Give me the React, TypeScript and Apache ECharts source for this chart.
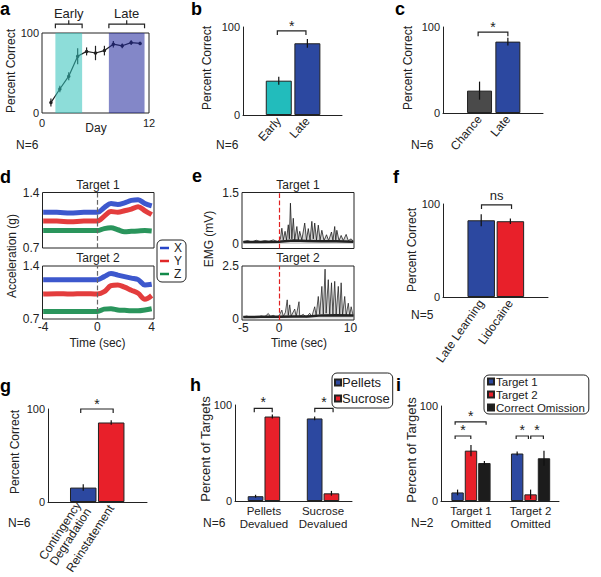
import React, { useEffect, useRef } from "react";
import * as echarts from "echarts";

const FONT = "'Liberation Sans', Arial, Helvetica, sans-serif";
const INK = "#222222";

// ---------- panel a : learning curve
const days = [1, 2, 3, 4, 5, 6, 7, 8, 9, 10, 11];
const pctCorrectByDay = [13, 30, 46, 71, 77, 75, 78, 86, 84, 88, 87];
const pctCorrectErr = [5, 4, 5, 10, 5, 9, 6, 4, 3, 3, 2];
const earlyWindow = [1.5, 4.5];
const lateWindow = [7.5, 11.5];

// ---------- panel b
const bCats = ["Early", "Late"];
const bVals = [39, 81.5];
const bErr = [4.5, 5];
// ---------- panel c
const cCats = ["Chance", "Late"];
const cVals = [26, 83];
const cErr = [10.5, 4.5];
// ---------- panel f
const fCats = ["Late Learning", "Lidocaine"];
const fVals = [82.5, 81.5];
const fErr = [6.5, 3];
// ---------- panel g
const gCats = ["Contingency\nDegradation", "Reinstatement"];
const gVals = [15.5, 85.5];
const gErr = [3.5, 2.5];
// ---------- panel h
const hGroups = ["Pellets\nDevalued", "Sucrose\nDevalued"];
const hPellets = [5, 86];
const hPelletsErr = [1.5, 2];
const hSucrose = [88, 8];
const hSucroseErr = [2, 2.5];
// ---------- panel i
const iGroups = ["Target 1\nOmitted", "Target 2\nOmitted"];
const iTarget1 = [9, 50];
const iTarget1Err = [3, 2];
const iTarget2 = [53, 7];
const iTarget2Err = [6, 5];
const iOmission = [40, 45];
const iOmissionErr = [2, 8];

// ---------- panel d : accelerometer traces
const accTime = [-4, -3, -2, -1, 0, 0.5, 1, 1.5, 2, 2.5, 3, 3.5, 4];
const accT1X = [1.15, 1.15, 1.14, 1.15, 1.15, 1.21, 1.26, 1.25, 1.27, 1.3, 1.31, 1.26, 1.23];
const accT1Y = [1.04, 1.04, 1.03, 1.04, 1.04, 1.1, 1.16, 1.15, 1.17, 1.19, 1.22, 1.17, 1.12];
const accT1Z = [0.92, 0.92, 0.92, 0.92, 0.92, 0.945, 0.955, 0.93, 0.905, 0.91, 0.915, 0.92, 0.915];
const accT2X = [1.22, 1.22, 1.22, 1.22, 1.22, 1.26, 1.3, 1.28, 1.26, 1.24, 1.22, 1.15, 1.16];
const accT2Y = [1.03, 1.035, 1.03, 1.035, 1.03, 1.06, 1.14, 1.15, 1.12, 1.08, 1.04, 0.96, 1.01];
const accT2Z = [0.8, 0.8, 0.8, 0.8, 0.8, 0.83, 0.835, 0.82, 0.815, 0.81, 0.81, 0.82, 0.835];

// ---------- panel e : EMG traces
const emg1Time = [-5, -4.4, -3.8, -3.2, -2.6, -2, -1.4, -0.8, -0.2, 0, 0.2, 0.4, 0.6, 0.85, 1.05, 1.3, 1.45, 1.6, 1.8, 2.0, 2.2, 2.5, 2.7, 2.9, 3.2, 3.6, 3.85, 4.1, 4.35, 4.6, 4.8, 5.0, 5.25, 5.5, 5.75, 6.0, 6.3, 6.65, 6.95, 7.35, 7.55, 7.8, 7.95, 8.1, 8.4, 8.7, 9.0, 9.4, 9.7, 10.1, 10.4];
const emg1Val = [0.07, 0.1, 0.06, 0.11, 0.07, 0.1, 0.08, 0.12, 0.07, 0.1, 0.15, 0.46, 0.12, 0.37, 0.12, 0.56, 0.15, 1.19, 0.15, 0.75, 0.12, 0.51, 0.12, 0.37, 0.12, 0.61, 0.12, 0.45, 0.12, 0.66, 0.15, 0.61, 0.12, 0.55, 0.12, 0.4, 0.1, 0.27, 0.1, 0.35, 0.1, 0.51, 0.12, 0.4, 0.1, 0.25, 0.1, 0.28, 0.1, 0.15, 0.08];
const emg2Time = [-5, -4.5, -4, -3.5, -3, -2.5, -2, -1.5, -1.2, -0.8, -0.4, 0, 0.4, 0.6, 0.9, 1.15, 1.3, 1.5, 1.7, 2.2, 2.4, 2.8, 2.9, 3.4, 3.8, 4.3, 4.6, 5.0, 5.2, 5.5, 5.7, 6.0, 6.2, 6.45, 6.6, 6.9, 7.1, 7.35, 7.55, 7.8, 8.0, 8.3, 8.5, 8.7, 8.9, 9.2, 9.4, 9.7, 9.9, 10.1, 10.4];
const emg2Val = [0.08, 0.12, 0.05, 0.1, 0.06, 0.12, 0.08, 0.24, 0.1, 0.15, 0.08, 0.12, 0.4, 0.1, 0.3, 0.89, 0.15, 0.65, 0.12, 0.45, 0.1, 0.8, 0.1, 0.2, 0.06, 0.25, 0.1, 0.56, 0.15, 1.05, 0.2, 1.53, 0.2, 2.35, 0.25, 1.85, 0.2, 1.7, 0.2, 1.77, 0.2, 1.53, 0.2, 1.7, 0.15, 1.05, 0.15, 0.73, 0.15, 0.56, 0.1];
const emgBaseTime = [-5, -2.5, 0, 2, 4, 6, 8, 10.4];
const emg1Base = [0.06, 0.06, 0.07, 0.1, 0.09, 0.08, 0.08, 0.07];
const emg2Base = [0.07, 0.08, 0.08, 0.1, 0.1, 0.15, 0.16, 0.15];

// ---------- significance brackets [x1, x2, y] in data units
const aBrackets = [[earlyWindow[0], earlyWindow[1], 111], [lateWindow[0], lateWindow[1], 111]];
const aBracketLabels = ["Early", "Late"];
const bBrackets = [[0.95, 1.95, 95.5]];
const cBrackets = [[0.95, 2.0, 94]];
const fBrackets = [[1.01, 2.04, 99]];
const gBrackets = [[0.91, 2.07, 100]];
const hBrackets = [[0.836, 1.14, 96.5], [1.86, 2.17, 96.5]];
const iBrackets = [[0.734, 0.997, 68.4], [0.734, 1.254, 83.3], [1.758, 1.964, 68.4], [2.003, 2.215, 68.4]];

const C_CYAN = "#22bcbc";
const C_BLUE = "#2c48a0";
const C_RED = "#e8202a";
const C_GRAY = "#4a4a4a";
const C_BLACK = "#1c1c1c";
const T_BLUE = "#2846c8";
const T_RED = "#e02828";
const T_GREEN = "#138a4a";

const zip = (a: number[], b: number[]) => a.map((v, i) => [v, b[i]]);

function errSeries(gi: number, data: number[][], color = "#111") {
  return {
    type: "custom", xAxisIndex: gi, yAxisIndex: gi, z: 6, silent: true, clip: false, data,
    renderItem: (_p: any, api: any) => {
      const x = api.value(0), y = api.value(1), e = api.value(2);
      const a = api.coord([x, y - e]);
      const b = api.coord([x, y + e]);
      return { type: "line", shape: { x1: a[0], y1: a[1], x2: b[0], y2: b[1] }, style: { stroke: color, lineWidth: 1.2 } };
    },
  };
}

function bracketSeries(gi: number, data: number[][], labels: string[], o: { tick: number; brace: number; gap: number; size: number }) {
  return {
    type: "custom", xAxisIndex: gi, yAxisIndex: gi, z: 10, silent: true, clip: false, data,
    renderItem: (p: any, api: any) => {
      const a = api.coord([api.value(0), api.value(2)]);
      const b = api.coord([api.value(1), api.value(2)]);
      const mx = (a[0] + b[0]) / 2;
      const children: any[] = [
        { type: "polyline", shape: { points: [[a[0], a[1] + o.tick], [a[0], a[1]], [b[0], b[1]], [b[0], b[1] + o.tick]] }, style: { stroke: INK, lineWidth: 1.2, fill: null } },
        { type: "text", x: mx, y: a[1] - o.gap, style: { text: labels[p.dataIndex], fill: INK, fontFamily: FONT, fontSize: o.size, align: "center", verticalAlign: "middle" } },
      ];
      if (o.brace > 0) children.push({ type: "line", shape: { x1: mx, y1: a[1], x2: mx, y2: a[1] - o.brace }, style: { stroke: INK, lineWidth: 1.2 } });
      return { type: "group", children };
    },
  };
}

const lbl = { fontSize: 11, fontFamily: FONT, color: INK };
const axLine = { show: true, onZero: false, lineStyle: { color: INK, width: 1 } };

function pctY(gi: number, showLine = true) {
  return { type: "value", gridIndex: gi, min: 0, max: 100, interval: 100, axisLine: { ...axLine, show: showLine }, axisTick: { show: false }, splitLine: { show: false }, axisLabel: { ...lbl, margin: 3 } };
}
function catX(gi: number, min: number, max: number, names: string[], rotate: number, extra: any = {}) {
  return {
    type: "value", gridIndex: gi, min, max, axisLine: axLine, axisTick: { show: false }, splitLine: { show: false },
    axisLabel: { ...lbl, fontSize: 12, margin: 4, rotate, customValues: names.map((_, i) => i + 1), formatter: (v: number) => names[Math.round(v) - 1] ?? "", ...extra },
  };
}
function traceX(gi: number, min: number, max: number, ticks: number[], show: boolean) {
  return { type: "value", gridIndex: gi, min, max, axisLine: { show: false }, axisTick: { show: false }, splitLine: { show: false }, axisLabel: { ...lbl, fontSize: 12, margin: 2, show, customValues: ticks } };
}
function traceY(gi: number, min: number, max: number, ticks: number[], fmt: (v: number) => string) {
  return { type: "value", gridIndex: gi, min, max, axisLine: { show: false }, axisTick: { show: false }, splitLine: { show: false }, axisLabel: { ...lbl, fontSize: 12, margin: 3, customValues: ticks, formatter: fmt } };
}
function singleBars(gi: number, vals: number[], colors: string[], width: number) {
  return { type: "bar", name: "bars" + gi, xAxisIndex: gi, yAxisIndex: gi, barWidth: width, z: 2, itemStyle: { borderColor: INK, borderWidth: 1 }, data: vals.map((v, i) => ({ value: [i + 1, v], itemStyle: { color: colors[i] } })) };
}
function groupBars(gi: number, name: string, vals: number[], offset: number, color: string, width: number) {
  return { type: "bar", name, xAxisIndex: gi, yAxisIndex: gi, barWidth: width, barGap: "-100%", z: 2, itemStyle: { color, borderColor: INK, borderWidth: 1 }, data: vals.map((v, i) => [i + 1 + offset, v]) };
}
function trace(gi: number, name: string, ys: number[], color: string, extra: any = {}) {
  return { type: "line", name, xAxisIndex: gi, yAxisIndex: gi, data: zip(accTime, ys), showSymbol: false, symbol: "none", smooth: 0.35, color, lineStyle: { color, width: 5, opacity: 0.9 }, z: 3, ...extra };
}
let gid = 0;
const txt = (text: string, x: number, y: number, o: any = {}) => ({ type: "text", id: "t" + gid++, z: 100, x, y, silent: true, style: { text, fill: INK, fontFamily: FONT, fontSize: 12, align: "left", verticalAlign: "middle", ...o } });
const vtxt = (text: string, x: number, y: number, size = 12) => ({ type: "text", id: "t" + gid++, z: 100, x, y, rotation: Math.PI / 2, silent: true, style: { text, fill: INK, fontFamily: FONT, fontSize: size, align: "center", verticalAlign: "middle" } });
const letter = (t: string, x: number, y: number) => txt(t, x, y, { fontSize: 18, fontWeight: "bold", fill: "#000" });

function buildOption(): any {
  gid = 0;
  const box = { show: true, borderColor: INK, borderWidth: 1, backgroundColor: "transparent" };
  const grid = [
    { left: 42, top: 33, width: 107, height: 80, ...box }, // 0 a
    { left: 243, top: 27, width: 99, height: 88 }, // 1 b
    { left: 443, top: 27, width: 100, height: 86 }, // 2 c
    { left: 42.5, top: 192.5, width: 111.5, height: 55.5, ...box }, // 3 d1
    { left: 42.5, top: 266, width: 111.5, height: 53, ...box }, // 4 d2
    { left: 242, top: 192.5, width: 112, height: 56, ...box }, // 5 e1
    { left: 242, top: 266, width: 112, height: 54, ...box }, // 6 e2
    { left: 443, top: 204, width: 105, height: 93 }, // 7 f
    { left: 48, top: 409, width: 99, height: 93 }, // 8 g
    { left: 235, top: 405, width: 117, height: 96 }, // 9 h
    { left: 441, top: 406, width: 118, height: 95 }, // 10 i
  ];
  const xAxis = [
    { type: "value", gridIndex: 0, min: 0, max: 12, interval: 12, axisLine: { show: false }, axisTick: { show: false }, splitLine: { show: false }, axisLabel: { ...lbl, margin: 4 } },
    catX(1, -0.25, 3.21, bCats, 48),
    catX(2, -0.29, 3.24, cCats, 50),
    traceX(3, -4.05, 4.17, [-4, 0, 4], false),
    traceX(4, -4.05, 4.17, [-4, 0, 4], true),
    traceX(5, -5.18, 10.5, [-5, 0, 10], false),
    traceX(6, -5.18, 10.5, [-5, 0, 10], true),
    catX(7, -0.31, 3.29, fCats, 55),
    catX(8, -0.26, 3.28, gCats, 57),
    catX(9, 0.51, 2.49, hGroups, 0, { fontSize: 11.5, lineHeight: 12.5 }),
    catX(10, 0.497, 2.477, iGroups, 0, { fontSize: 11.5, lineHeight: 12.5 }),
  ];
  const yAxis = [
    pctY(0, false),
    pctY(1),
    pctY(2),
    traceY(3, 0.7, 1.4, [0.7, 1.4], (v) => v.toFixed(1)),
    traceY(4, 0.7, 1.4, [0.7, 1.4], (v) => v.toFixed(1)),
    traceY(5, -0.13, 1.5, [0, 1.5], (v) => String(v)),
    traceY(6, -0.07, 2.5, [0, 2.5], (v) => String(v)),
    pctY(7),
    pctY(8),
    pctY(9),
    pctY(10),
  ];

  const vline = (color: string) => ({ silent: true, symbol: "none", label: { show: false }, lineStyle: { color, type: "dashed", width: 1.2, opacity: 1 }, emphasis: { disabled: true }, data: [{ xAxis: 0, lineStyle: { color } }] });

  const series: any[] = [
    // a
    { type: "line", name: "learning", xAxisIndex: 0, yAxisIndex: 0, data: zip(days, pctCorrectByDay), color: "#222", symbol: "circle", symbolSize: 3.5, lineStyle: { color: "#222", width: 1.2 }, z: 2 },
    errSeries(0, days.map((d, i) => [d, pctCorrectByDay[i], pctCorrectErr[i]]), "#222"),
    {
      type: "line", name: "windows", xAxisIndex: 0, yAxisIndex: 0, data: [], z: 8,
      markArea: { silent: true, z: 8, label: { show: false }, data: [
        [{ xAxis: earlyWindow[0], itemStyle: { color: "#30c1ba", opacity: 0.55 } }, { xAxis: earlyWindow[1] }],
        [{ xAxis: lateWindow[0], itemStyle: { color: "#1e259b", opacity: 0.55 } }, { xAxis: lateWindow[1] }],
      ] },
    },
    bracketSeries(0, aBrackets, aBracketLabels, { tick: 4, brace: 4, gap: 11, size: 13 }),
    // b
    singleBars(1, bVals, [C_CYAN, C_BLUE], 26),
    errSeries(1, bVals.map((v, i) => [i + 1, v, bErr[i]])),
    bracketSeries(1, bBrackets, ["*"], { tick: 4, brace: 0, gap: 5, size: 14 }),
    // c
    singleBars(2, cVals, [C_GRAY, C_BLUE], 25),
    errSeries(2, cVals.map((v, i) => [i + 1, v, cErr[i]])),
    bracketSeries(2, cBrackets, ["*"], { tick: 4, brace: 0, gap: 5, size: 14 }),
    // d
    trace(3, "X", accT1X, T_BLUE, { markLine: vline("#666666") }),
    trace(3, "Y", accT1Y, T_RED),
    trace(3, "Z", accT1Z, T_GREEN),
    trace(4, "X", accT2X, T_BLUE, { markLine: vline("#666666") }),
    trace(4, "Y", accT2Y, T_RED),
    trace(4, "Z", accT2Z, T_GREEN),
    // e
    { type: "line", name: "emg1", xAxisIndex: 5, yAxisIndex: 5, data: zip(emg1Time, emg1Val), showSymbol: false, symbol: "none", lineStyle: { color: "rgba(20,20,20,0.75)", width: 1 }, areaStyle: { color: "rgba(50,50,50,0.3)" }, z: 3 },
    { type: "line", name: "emg1base", xAxisIndex: 5, yAxisIndex: 5, data: zip(emgBaseTime, emg1Base), showSymbol: false, symbol: "none", lineStyle: { color: "#222", width: 2.5 }, z: 4, markLine: vline("#e02020") },
    { type: "line", name: "emg2", xAxisIndex: 6, yAxisIndex: 6, data: zip(emg2Time, emg2Val), showSymbol: false, symbol: "none", lineStyle: { color: "rgba(20,20,20,0.7)", width: 1 }, areaStyle: { color: "rgba(50,50,50,0.25)" }, z: 3 },
    { type: "line", name: "emg2base", xAxisIndex: 6, yAxisIndex: 6, data: zip(emgBaseTime, emg2Base), showSymbol: false, symbol: "none", lineStyle: { color: "#222", width: 2.5 }, z: 4, markLine: vline("#e02020") },
    // f
    singleBars(7, fVals, [C_BLUE, C_RED], 27.5),
    errSeries(7, fVals.map((v, i) => [i + 1, v, fErr[i]])),
    bracketSeries(7, fBrackets, ["ns"], { tick: 4, brace: 0, gap: 9, size: 13 }),
    // g
    singleBars(8, gVals, [C_BLUE, C_RED], 26.5),
    errSeries(8, gVals.map((v, i) => [i + 1, v, gErr[i]])),
    bracketSeries(8, gBrackets, ["*"], { tick: 4, brace: 0, gap: 5, size: 14 }),
    // h
    groupBars(9, "Pellets", hPellets, -0.142, C_BLUE, 15.7),
    groupBars(9, "Sucrose", hSucrose, 0.142, C_RED, 15.7),
    errSeries(9, hPellets.map((v, i) => [i + 1 - 0.142, v, hPelletsErr[i]])),
    errSeries(9, hSucrose.map((v, i) => [i + 1 + 0.142, v, hSucroseErr[i]])),
    bracketSeries(9, hBrackets, ["*", "*"], { tick: 4, brace: 0, gap: 6, size: 14 }),
    // i
    groupBars(10, "Target 1", iTarget1, -0.225, C_BLUE, 12.4),
    groupBars(10, "Target 2", iTarget2, 0, C_RED, 12.4),
    groupBars(10, "Correct Omission", iOmission, 0.225, C_BLACK, 12.4),
    errSeries(10, iTarget1.map((v, i) => [i + 1 - 0.225, v, iTarget1Err[i]])),
    errSeries(10, iTarget2.map((v, i) => [i + 1, v, iTarget2Err[i]])),
    errSeries(10, iOmission.map((v, i) => [i + 1 + 0.225, v, iOmissionErr[i]])),
    bracketSeries(10, iBrackets, ["*", "*", "*", "*"], { tick: 3, brace: 0, gap: 6, size: 14 }),
  ];

  const legendBase = { orient: "vertical", selectedMode: false, icon: "rect", borderColor: INK, borderWidth: 1, borderRadius: 5 };
  const legend = [
    { ...legendBase, data: ["X", "Y", "Z"], left: 157, top: 240, itemWidth: 9, itemHeight: 2.5, itemGap: 1, padding: [2, 4, 2, 3], itemStyle: { borderWidth: 0 }, textStyle: { fontSize: 12, lineHeight: 11, fontFamily: FONT, color: INK } },
    { ...legendBase, data: ["Pellets", "Sucrose"], left: 332, top: 373, itemWidth: 6, itemHeight: 6, itemGap: 1, padding: [2, 3, 2, 2], textStyle: { fontSize: 13, lineHeight: 15, fontFamily: FONT, color: INK, padding: [0, 0, 0, -4] } },
    { ...legendBase, data: ["Target 1", "Target 2", "Correct Omission"], left: 484, top: 375, itemWidth: 6, itemHeight: 6, itemGap: 0, padding: [0, 4, 0, 3], textStyle: { fontSize: 11.5, lineHeight: 13, fontFamily: FONT, color: INK, padding: [0, 0, 0, -3] } },
  ];

  const graphic = [
    letter("a", 0, 9), letter("b", 191, 9), letter("c", 395, 9),
    letter("d", 0, 177), letter("e", 192, 176), letter("f", 393, 177),
    letter("g", 0, 386), letter("h", 190, 385), letter("i", 396, 385),
    txt("N=6", 16, 145), txt("N=6", 216, 145), txt("N=6", 411, 145),
    txt("N=5", 411, 315), txt("N=6", 8, 523), txt("N=6", 203, 523), txt("N=2", 411, 523),
    vtxt("Percent Correct", 11, 71), vtxt("Percent Correct", 207, 68), vtxt("Percent Correct", 407.5, 68),
    vtxt("Acceleration (g)", 11.5, 256), vtxt("EMG (mV)", 208.5, 239),
    vtxt("Percent Correct", 411.5, 250), vtxt("Percent Correct", 15, 452),
    vtxt("Percent of Targets", 205, 449, 13), vtxt("Percent of Targets", 411.5, 450, 13),
    txt("Day", 96, 128, { align: "center" }),
    txt("Time (sec)", 97.5, 343, { align: "center" }), txt("Time (sec)", 299, 343, { align: "center" }),
    txt("Target 1", 98, 185, { align: "center" }), txt("Target 2", 98, 258, { align: "center" }),
    txt("Target 1", 298, 185, { align: "center" }), txt("Target 2", 298, 258, { align: "center" }),
  ];

  return { animation: false, backgroundColor: "#fff", textStyle: { fontFamily: FONT }, grid, xAxis, yAxis, series, legend, graphic };
}

export default function App() {
  const ref = useRef<HTMLDivElement>(null);
  useEffect(() => {
    const chart = echarts.init(ref.current!, null, { renderer: "svg" });
    chart.setOption(buildOption());
    return () => chart.dispose();
  }, []);
  return <div ref={ref} style={{ position: "fixed", left: 0, top: 0, width: 601, height: 577, background: "#fff" }} />;
}
